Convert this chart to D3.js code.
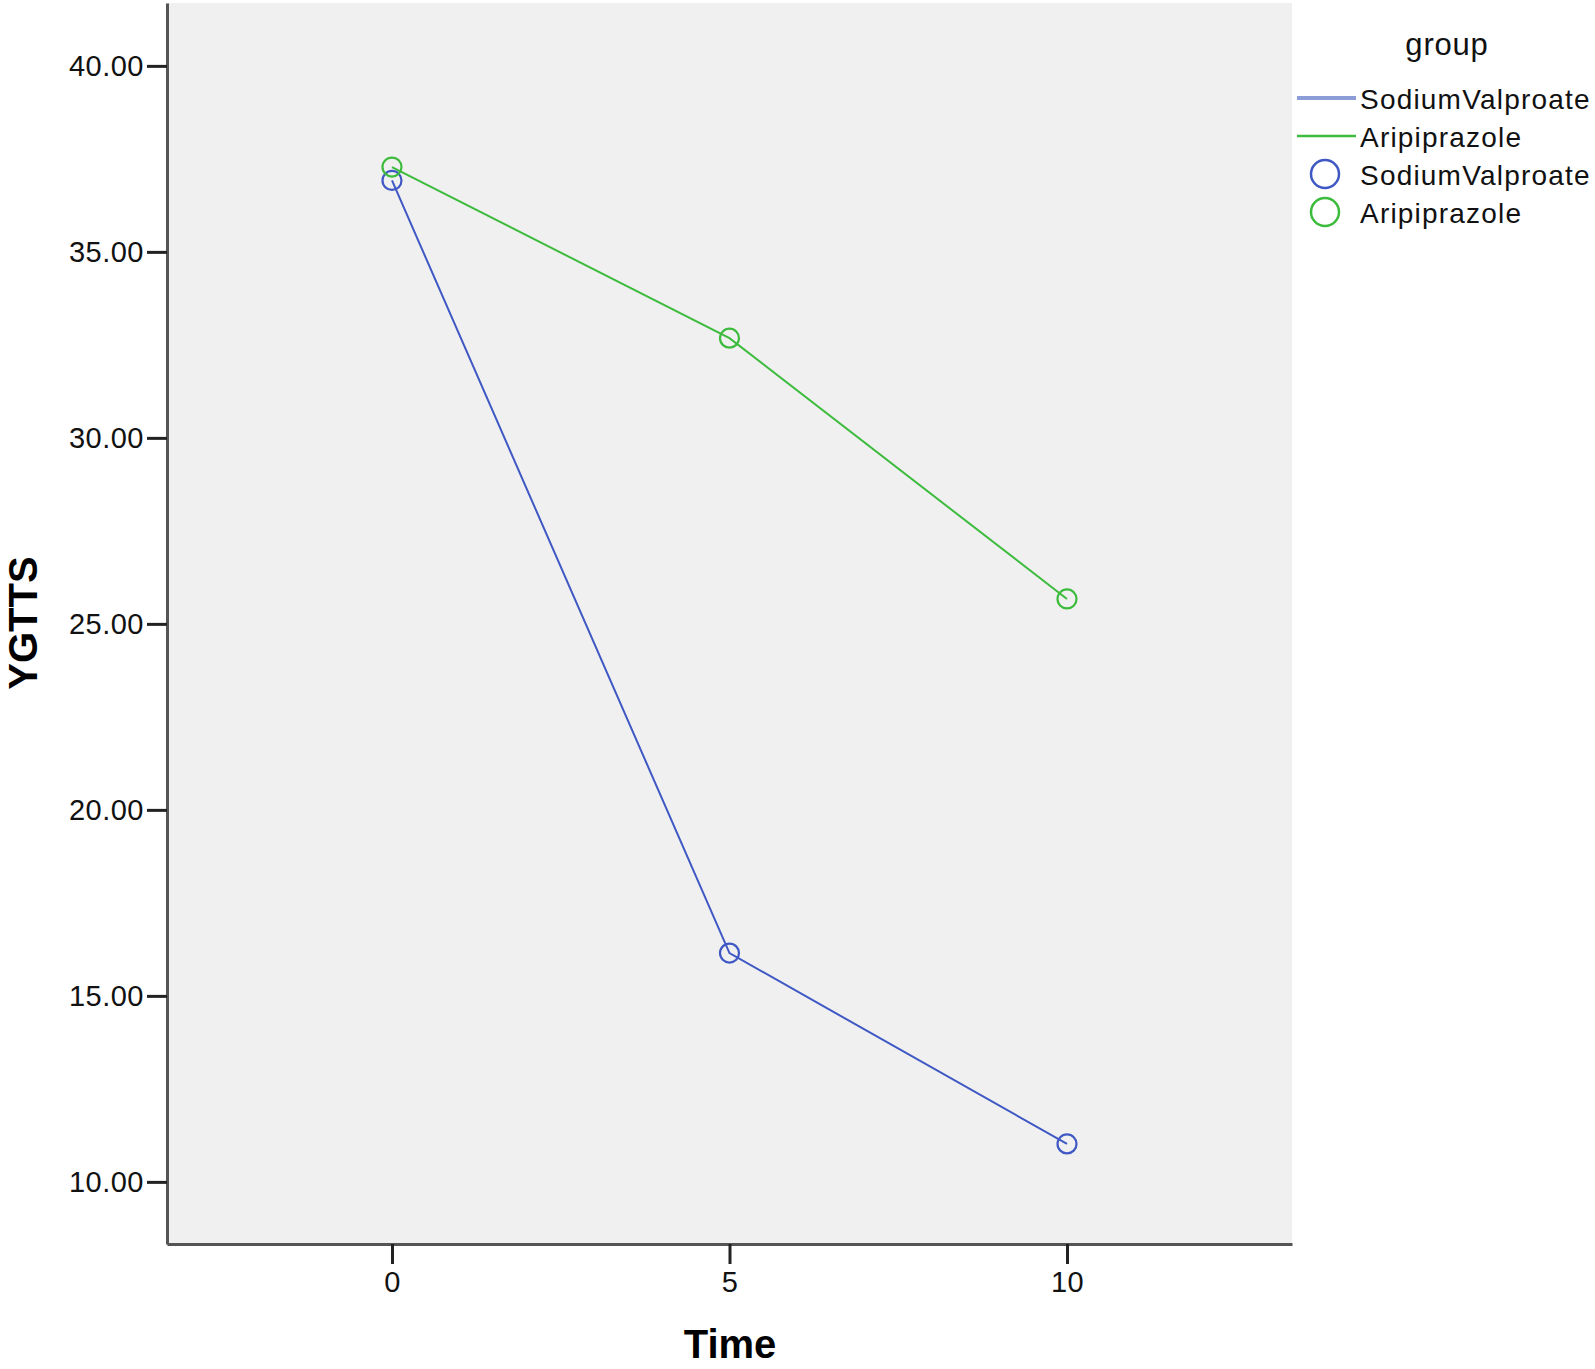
<!DOCTYPE html>
<html>
<head>
<meta charset="utf-8">
<script src="https://cdn.jsdelivr.net/npm/d3@7"></script>
<style>
  body { margin: 0; background: #fff; }
  svg text { font-family: Arial, "Liberation Sans", sans-serif; }
</style>
</head>
<body>
<div id="chart"></div>
<script>
// values
var times = [0, 5, 10];
var sodiumValproate = [36.92, 16.15, 11.02];
var aripiprazole = [37.28, 32.68, 25.67];
var groups = ["SodiumValproate", "Aripiprazole"];
var colours = ["#3f58c4", "#3dbb3d"];
var yTicks = [10, 15, 20, 25, 30, 35, 40];
var xTicks = [0, 5, 10];

var width = 1595, height = 1369;
var plot = {left: 167, top: 3, right: 1292, bottom: 1244};

var svg = d3.select("#chart").append("svg")
  .attr("width", width).attr("height", height);

var x = d3.scaleLinear().domain([-3.333, 13.333]).range([plot.left, plot.right]);
var y = d3.scaleLinear().domain([8.33, 41.69]).range([plot.bottom, plot.top]);

// plot background
svg.append("rect")
  .attr("x", plot.left).attr("y", plot.top)
  .attr("width", plot.right - plot.left).attr("height", plot.bottom - plot.top)
  .attr("fill", "#f0f0f0");

// axes
var yAxis = svg.append("g")
  .attr("transform", "translate(" + plot.left + ",0)")
  .call(d3.axisLeft(y).tickValues(yTicks).tickFormat(d3.format(".2f")).tickSize(20).tickPadding(3).tickSizeOuter(0));
var xAxis = svg.append("g")
  .attr("transform", "translate(0," + plot.bottom + ")")
  .call(d3.axisBottom(x).tickValues(xTicks).tickFormat(d3.format("d")).tickSize(20).tickPadding(7).tickSizeOuter(0));

[yAxis, xAxis].forEach(function(a) {
  a.select(".domain").attr("stroke", "#555").attr("stroke-width", 3);
  a.selectAll(".tick line").attr("stroke", "#222").attr("stroke-width", 3);
  a.selectAll(".tick text").attr("fill", "#111").style("font-size", "29px").style("letter-spacing", "0.5px");
});

// axis titles
svg.append("text")
  .attr("x", 730).attr("y", 1358)
  .attr("text-anchor", "middle")
  .style("font-size", "40px").style("font-weight", "bold")
  .text("Time");
svg.append("text")
  .attr("transform", "translate(37,623) rotate(-90)")
  .attr("text-anchor", "middle")
  .style("font-size", "40px").style("font-weight", "bold")
  .text("YGTTS");

// lines and markers
var series = [sodiumValproate, aripiprazole];
var line = d3.line()
  .x(function(d, i) { return x(times[i]); })
  .y(function(d) { return y(d); });

series.forEach(function(s, k) {
  svg.append("path")
    .datum(s)
    .attr("d", line)
    .attr("fill", "none")
    .attr("stroke", colours[k])
    .attr("stroke-width", 2);
  svg.selectAll(".pt" + k).data(s).enter().append("circle")
    .attr("class", "pt" + k)
    .attr("cx", function(d, i) { return x(times[i]); })
    .attr("cy", function(d) { return y(d); })
    .attr("r", 9.5)
    .attr("fill", "none")
    .attr("stroke", colours[k])
    .attr("stroke-width", 2.2);
});

// legend
var legend = svg.append("g");
legend.append("text")
  .attr("x", 1447).attr("y", 55)
  .attr("text-anchor", "middle")
  .style("font-size", "31px").attr("fill", "#111")
  .style("letter-spacing", "0.8px")
  .text("group");

var lineRows = [98, 136], circleRows = [174, 212];
var legendLineColours = ["#8d9dd8", "#3dbb3d"];
var legendLineWidths = [4, 2.5];
groups.forEach(function(g, k) {
  legend.append("line")
    .attr("x1", 1297).attr("x2", 1356)
    .attr("y1", lineRows[k]).attr("y2", lineRows[k])
    .attr("stroke", legendLineColours[k]).attr("stroke-width", legendLineWidths[k]);
  legend.append("text")
    .attr("x", 1360).attr("y", lineRows[k]).attr("dy", "0.38em")
    .style("font-size", "28px").style("letter-spacing", "1.2px").attr("fill", "#111")
    .text(g);
  legend.append("circle")
    .attr("cx", 1325).attr("cy", circleRows[k]).attr("r", 14)
    .attr("fill", "none").attr("stroke", colours[k]).attr("stroke-width", 2.5);
  legend.append("text")
    .attr("x", 1360).attr("y", circleRows[k]).attr("dy", "0.38em")
    .style("font-size", "28px").style("letter-spacing", "1.2px").attr("fill", "#111")
    .text(g);
});
</script>
</body>
</html>
